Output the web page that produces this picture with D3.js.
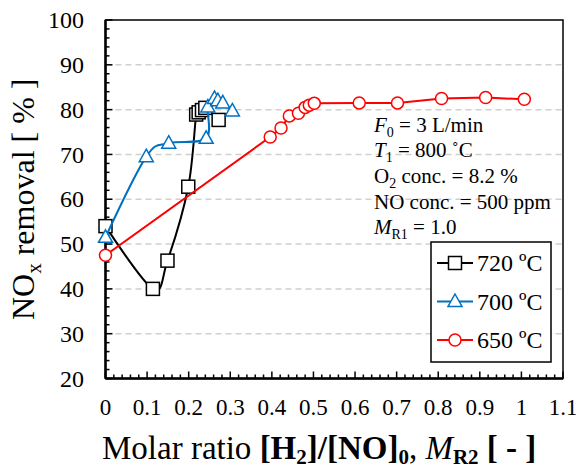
<!DOCTYPE html>
<html>
<head>
<meta charset="utf-8">
<script src="https://cdn.jsdelivr.net/npm/d3@7"></script>
<style>
  body { margin: 0; background: #fff; }
  text { font-family: "Liberation Serif", "Times New Roman", serif; fill: #000; }
</style>
</head>
<body>
<svg id="Viz" width="576" height="472"></svg>
<script>
// data
var xs720 = [0, 0.114, 0.149, 0.199, 0.218, 0.224, 0.232, 0.240, 0.272];
var ys720 = [54.0, 40.0, 46.3, 62.8, 78.9, 79.4, 79.9, 80.4, 77.7];

var xs700 = [0, 0.098, 0.152, 0.242, 0.246, 0.262, 0.270, 0.282, 0.305];
var ys700 = [51.5, 69.5, 72.5, 73.6, 80.6, 82.5, 82.0, 81.5, 79.7];

var xs650 = [0, 0.396, 0.422, 0.442, 0.464, 0.480, 0.490, 0.502, 0.610, 0.702, 0.808, 0.914, 1.007];
var ys650 = [47.5, 73.9, 75.9, 78.6, 79.2, 80.5, 81.0, 81.4, 81.5, 81.5, 82.5, 82.7, 82.3];

var seriesNames = ["720 ºC", "700 ºC", "650 ºC"];
var xTicks = [0, 0.1, 0.2, 0.3, 0.4, 0.5, 0.6, 0.7, 0.8, 0.9, 1, 1.1];
var yTicks = [20, 30, 40, 50, 60, 70, 80, 90, 100];

var svg = d3.select("#Viz"),
    pLeft = 105.5, pRight = 563, pTop = 20, pBottom = 378.5;

var x = d3.scaleLinear().domain([0, 1.1]).range([pLeft, pRight]);
var y = d3.scaleLinear().domain([20, 100]).range([pBottom, pTop]);

function zip(xs, ys) {
  return xs.map(function(v, i) { return {x: v, y: ys[i]}; });
}

var series = [
  {name: seriesNames[0], pts: zip(xs720, ys720), color: "#000000", shape: "square", curve: d3.curveCardinal.tension(0)},
  {name: seriesNames[1], pts: zip(xs700, ys700), color: "#0070c0", shape: "triangle", curve: d3.curveCardinal.tension(0)},
  {name: seriesNames[2], pts: zip(xs650, ys650), color: "#ff0000", shape: "circle", curve: d3.curveLinear}
];

// gridlines
svg.append("g")
  .selectAll("line")
  .data(yTicks.filter(function(d) { return d > 20 && d < 100; }))
  .enter().append("line")
    .attr("x1", pLeft).attr("x2", pRight)
    .attr("y1", function(d) { return y(d); })
    .attr("y2", function(d) { return y(d); })
    .attr("stroke", "#d0d0d0")
    .attr("stroke-width", 1.5)
    .attr("stroke-dasharray", "6,4");

// frame
svg.append("rect")
  .attr("x", pLeft).attr("y", pTop)
  .attr("width", pRight - pLeft).attr("height", pBottom - pTop)
  .attr("fill", "none").attr("stroke", "#000").attr("stroke-width", 1.5);

// axes with inside ticks
var xMinor = d3.range(0, 1.1001, 0.02);
var yMinor = d3.range(20, 100.001, 2);

svg.append("g")
  .selectAll("line")
  .data(xMinor)
  .enter().append("line")
    .attr("x1", function(d) { return x(d); })
    .attr("x2", function(d) { return x(d); })
    .attr("y1", pBottom)
    .attr("y2", function(d, i) { return pBottom - (i % 5 == 0 ? 7 : 4); })
    .attr("stroke", "#000").attr("stroke-width", 1.5);

svg.append("g")
  .selectAll("line")
  .data(yMinor)
  .enter().append("line")
    .attr("y1", function(d) { return y(d); })
    .attr("y2", function(d) { return y(d); })
    .attr("x1", pLeft)
    .attr("x2", function(d, i) { return pLeft + (i % 5 == 0 ? 7 : 4); })
    .attr("stroke", "#000").attr("stroke-width", 1.5);

svg.append("line")
  .attr("x1", pLeft).attr("x2", pRight).attr("y1", pBottom).attr("y2", pBottom)
  .attr("stroke", "#000").attr("stroke-width", 2.5);
svg.append("line")
  .attr("x1", pLeft).attr("x2", pLeft).attr("y1", pTop).attr("y2", pBottom)
  .attr("stroke", "#000").attr("stroke-width", 2.5);

// tick labels
svg.append("g")
  .selectAll("text")
  .data(xTicks)
  .enter().append("text")
    .attr("x", function(d) { return x(d); })
    .attr("y", 415)
    .attr("text-anchor", "middle")
    .style("font-size", "23px")
    .text(function(d) { return d3.format("")(d); });

svg.append("g")
  .selectAll("text")
  .data(yTicks)
  .enter().append("text")
    .attr("x", 84)
    .attr("y", function(d) { return y(d); })
    .attr("dy", "0.34em")
    .attr("text-anchor", "end")
    .style("font-size", "24px")
    .text(function(d) { return d; });

// axis titles
var xt = svg.append("text")
  .attr("x", 102).attr("y", 459)
  .style("font-size", "33px");
xt.append("tspan").text("Molar ratio ");
xt.append("tspan").style("font-weight", "bold").text("[H");
xt.append("tspan").style("font-weight", "bold").style("font-size", "21px").attr("dy", 5).text("2");
xt.append("tspan").style("font-weight", "bold").attr("dy", -5).text("]/[NO]");
xt.append("tspan").style("font-weight", "bold").style("font-size", "21px").attr("dy", 5).text("0");
xt.append("tspan").attr("dy", -5).text(", ");
xt.append("tspan").style("font-style", "italic").text("M");
xt.append("tspan").style("font-weight", "bold").style("font-size", "21px").attr("dy", 5).text("R2");
xt.append("tspan").style("font-weight", "bold").attr("dy", -5).text(" [ - ]");

var yt = svg.append("text")
  .attr("transform", "translate(34," + ((pTop + pBottom) / 2) + ") rotate(-90)")
  .attr("text-anchor", "middle")
  .style("font-size", "32px");
yt.append("tspan").text("NO");
yt.append("tspan").style("font-size", "21px").attr("dy", 7).text("x");
yt.append("tspan").attr("dy", -7).text(" removal [ % ]");

// series lines
var line = d3.line()
  .x(function(d) { return x(d.x); })
  .y(function(d) { return y(d.y); });

function drawMarker(g, shape, color) {
  if (shape == "square") {
    g.append("rect").attr("x", -6.5).attr("y", -6.5).attr("width", 13).attr("height", 13)
      .attr("fill", "#fff").attr("stroke", color).attr("stroke-width", 1.5);
  } else if (shape == "triangle") {
    g.append("path").attr("d", "M0,-7.5L7,5L-7,5Z")
      .attr("fill", "#fff").attr("stroke", color).attr("stroke-width", 1.5);
  } else {
    g.append("circle").attr("r", 6)
      .attr("fill", "#fff").attr("stroke", color).attr("stroke-width", 1.5);
  }
}

series.forEach(function(s) {
  var g = svg.append("g");
  g.append("path")
    .attr("d", line.curve(s.curve)(s.pts))
    .attr("fill", "none")
    .attr("stroke", s.color)
    .attr("stroke-width", 2);
  g.selectAll("g.pt")
    .data(s.pts)
    .enter().append("g")
      .attr("class", "pt")
      .attr("transform", function(d) { return "translate(" + x(d.x) + "," + y(d.y) + ")"; })
      .each(function() { drawMarker(d3.select(this), s.shape, s.color); });
});

// conditions note
var note = svg.append("g").style("font-size", "21px");
var n1 = note.append("text").attr("x", 374).attr("y", 132);
n1.append("tspan").style("font-style", "italic").text("F");
n1.append("tspan").style("font-size", "14px").attr("dy", 5).text("0");
n1.append("tspan").attr("dy", -5).text(" = 3 L/min");
var n2 = note.append("text").attr("x", 374).attr("y", 157);
n2.append("tspan").style("font-style", "italic").text("T");
n2.append("tspan").style("font-size", "14px").attr("dy", 5).text("1");
n2.append("tspan").attr("dy", -5).text(" = 800 ˚C");
var n3 = note.append("text").attr("x", 374).attr("y", 183);
n3.append("tspan").text("O");
n3.append("tspan").style("font-size", "14px").attr("dy", 5).text("2");
n3.append("tspan").attr("dy", -5).text(" conc. = 8.2 %");
note.append("text").attr("x", 374).attr("y", 209).text("NO conc. = 500 ppm");
var n5 = note.append("text").attr("x", 374).attr("y", 234);
n5.append("tspan").style("font-style", "italic").text("M");
n5.append("tspan").style("font-size", "14px").attr("dy", 5).text("R1");
n5.append("tspan").attr("dy", -5).text(" = 1.0");

// legend
var lg = svg.append("g");
lg.append("rect")
  .attr("x", 431).attr("y", 242).attr("width", 120).attr("height", 120)
  .attr("fill", "#fff").attr("stroke", "#000").attr("stroke-width", 1.5);

series.forEach(function(s, i) {
  var cy = 263 + i * 38.5;
  lg.append("line")
    .attr("x1", 437).attr("x2", 473).attr("y1", cy).attr("y2", cy)
    .attr("stroke", s.color).attr("stroke-width", 2);
  drawMarker(lg.append("g").attr("transform", "translate(455," + cy + ")"), s.shape, s.color);
  lg.append("text")
    .attr("x", 477).attr("y", cy).attr("dy", "0.35em")
    .style("font-size", "24px")
    .text(s.name);
});
</script>
</body>
</html>
